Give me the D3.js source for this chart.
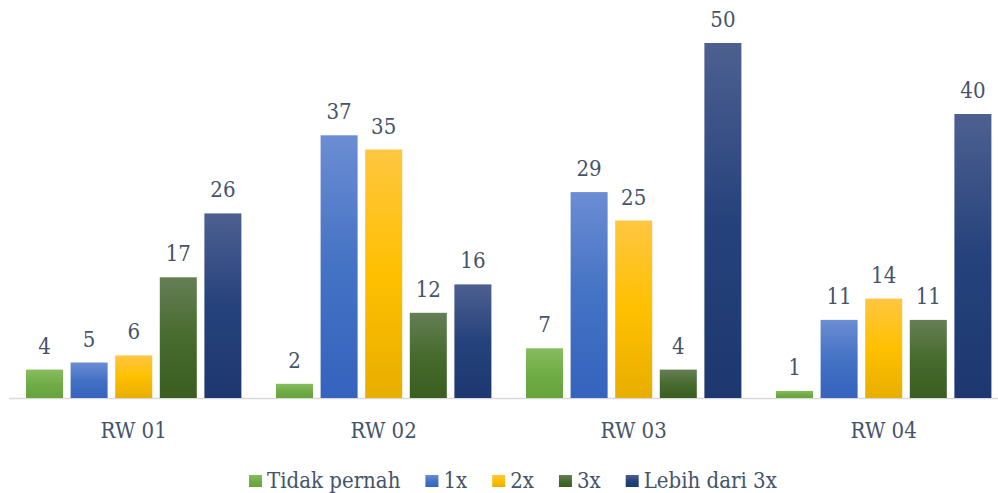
<!DOCTYPE html>
<html><head><meta charset="utf-8">
<script src="https://cdn.jsdelivr.net/npm/d3@7"></script>
<style>html,body{margin:0;padding:0;background:#fff}svg{display:block}
text{font-family:"DejaVu Serif Condensed","DejaVu Serif",serif;font-stretch:condensed}</style>
</head><body><svg id="c" width="998" height="493"></svg>
<script>
const categories = ["RW 01", "RW 02", "RW 03", "RW 04"];
const seriesNames = ["Tidak pernah", "1x", "2x", "3x", "Lebih dari 3x"];
const tidakPernah = [4, 2, 7, 1];
const satuX = [5, 37, 29, 11];
const duaX = [6, 35, 25, 14];
const tigaX = [17, 12, 4, 11];
const lebihDari3x = [26, 16, 50, 40];
const seriesValues = [tidakPernah, satuX, duaX, tigaX, lebihDari3x];
const gradColors = [
  ["#87bd60", "#70ad47", "#66a33b"],
  ["#6b8dd3", "#4472c4", "#3563be"],
  ["#ffc641", "#ffc000", "#e8ae00"],
  ["#657f55", "#476b2e", "#3a5d20"],
  ["#4d6090", "#26427c", "#1d3870"]
];
const fs = 22;
const textColor = "#44546a";

const svg = d3.select("#c");
const defs = svg.append("defs");
gradColors.forEach((c, i) => {
  const g = defs.append("linearGradient").attr("id", "g" + i)
    .attr("x1", 0).attr("y1", 0).attr("x2", 0).attr("y2", 1);
  g.append("stop").attr("offset", "0%").attr("stop-color", c[0]);
  g.append("stop").attr("offset", "50%").attr("stop-color", c[1]);
  g.append("stop").attr("offset", "100%").attr("stop-color", c[2]);
});

const x0 = d3.scaleBand().domain(categories).range([8.5, 1008.5]).padding(0);
const x1 = d3.scaleBand().domain(seriesNames).range([17.5, 232.9]).paddingInner(0.17).paddingOuter(0);
const y = d3.scaleLinear().domain([0, 50]).range([398, 43]);

svg.append("line").attr("x1", 9).attr("x2", 998).attr("y1", 398.5).attr("y2", 398.5)
  .attr("stroke", "#d9d9d9").attr("stroke-width", 1.5);

const groups = svg.selectAll("g.grp").data(categories).join("g")
  .attr("class", "grp").attr("transform", d => `translate(${x0(d)},0)`);

groups.each(function(cat, ci) {
  const g = d3.select(this);
  seriesNames.forEach((s, si) => {
    const v = seriesValues[si][ci];
    g.append("rect").attr("x", x1(s)).attr("width", x1.bandwidth())
      .attr("y", y(v)).attr("height", y(0) - y(v)).attr("fill", `url(#g${si})`);
    g.append("text").attr("x", x1(s) + x1.bandwidth() / 2).attr("y", y(v) - 16)
      .attr("text-anchor", "middle").attr("font-size", fs)
      .attr("fill", textColor).text(v);
  });
});

svg.selectAll("text.cat").data(categories).join("text").attr("class", "cat")
  .attr("x", d => x0(d) + (17.5 + 232.9) / 2)
  .attr("y", 438).attr("text-anchor", "middle")
  .attr("font-size", fs).attr("fill", textColor).text(d => d);

const leg = svg.append("g");
let lx = 249;
seriesNames.forEach((s, si) => {
  leg.append("rect").attr("x", lx).attr("y", 475).attr("width", 13).attr("height", 12)
    .attr("fill", `url(#g${si})`);
  const t = leg.append("text").attr("x", lx + 18).attr("y", 487.5)
    .attr("font-size", fs).attr("fill", textColor).text(s);
  lx = lx + 18 + t.node().getComputedTextLength() + 25;
});
</script></body></html>
